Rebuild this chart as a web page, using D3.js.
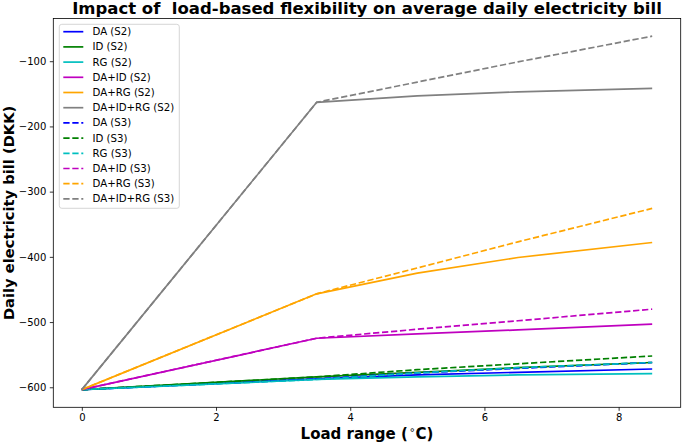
<!DOCTYPE html>
<html><head><meta charset="utf-8">
<script src="https://cdn.jsdelivr.net/npm/d3@7"></script>
<style>
html,body{margin:0;padding:0;background:#fff;}
svg{display:block;font-family:"DejaVu Sans",sans-serif;}
</style></head>
<body>
<svg id="chart" width="685" height="443"></svg>
<script>
// ---- data ----
const loadRange = [0, 3.5, 5, 6.5, 8.5];
const seriesNames = ["DA (S2)","ID (S2)","RG (S2)","DA+ID (S2)","DA+RG (S2)","DA+ID+RG (S2)",
                     "DA (S3)","ID (S3)","RG (S3)","DA+ID (S3)","DA+RG (S3)","DA+ID+RG (S3)"];
const DA_S2      = [-603.6, -587, -581, -577, -572];
const ID_S2      = [-603.6, -584, -577, -570, -562];
const RG_S2      = [-603.6, -588, -584, -581, -579];
const DAID_S2    = [-603.6, -524.8, -518, -512, -503.3];
const DARG_S2    = [-603.6, -456.7, -425, -401, -378];
const DAIDRG_S2  = [-603.6, -163, -153, -147, -141.5];
const DA_S3      = [-603.6, -587, -578, -571, -562];
const ID_S3      = [-603.6, -584, -573, -564, -552];
const RG_S3      = [-603.6, -588, -578, -570, -562];
const DAID_S3    = [-603.6, -524.8, -511, -498, -480.2];
const DARG_S3    = [-603.6, -456.7, -417, -377, -325.7];
const DAIDRG_S3  = [-603.6, -163, -132, -101, -61.6];
const xTicks = [0, 2, 4, 6, 8];
const yTicks = [-600, -500, -400, -300, -200, -100];

const seriesValues = [DA_S2, ID_S2, RG_S2, DAID_S2, DARG_S2, DAIDRG_S2,
                      DA_S3, ID_S3, RG_S3, DAID_S3, DARG_S3, DAIDRG_S3];
const colors = ["#0000ff","#008000","#00bfbf","#bf00bf","#ffa500","#808080"];

// ---- layout ----
const svg = d3.select("#chart");
const L = 53.3, R = 680.7, T = 18.5, B = 407.3;

const xMin = d3.min(loadRange), xMax = d3.max(loadRange);
const allV = seriesValues.flat();
const vMin = d3.min(allV), vMax = d3.max(allV);
const xPad = (xMax - xMin) * 0.05, yPad = (vMax - vMin) * 0.05;

const x = d3.scaleLinear().domain([xMin - xPad, xMax + xPad]).range([L, R]);
const y = d3.scaleLinear().domain([vMin - yPad, vMax + yPad]).range([B, T]);

const fmt = d => (d < 0 ? "\u2212" + Math.abs(d) : String(d));

// lines
const line = d3.line().x((d, i) => x(loadRange[i])).y(d => y(d));
const g = svg.append("g");
seriesValues.forEach((vals, k) => {
  g.append("path")
    .attr("d", line(vals))
    .attr("fill", "none")
    .attr("stroke", colors[k % 6])
    .attr("stroke-width", 1.7)
    .attr("stroke-dasharray", k >= 6 ? "6.3,2.7" : null);
});

// axes
const xAxis = d3.axisBottom(x).tickValues(xTicks).tickSize(3.5).tickPadding(3.5).tickFormat(fmt);
const yAxis = d3.axisLeft(y).tickValues(yTicks).tickSize(3.5).tickPadding(3.5).tickFormat(fmt);
const gx = svg.append("g").attr("transform", `translate(0,${B})`).call(xAxis);
const gy = svg.append("g").attr("transform", `translate(${L},0)`).call(yAxis);
[gx, gy].forEach(a => {
  a.select(".domain").remove();
  a.selectAll("line").attr("stroke", "#000").attr("stroke-width", 0.8);
  a.selectAll("text").attr("font-family", "DejaVu Sans").attr("font-size", 10).attr("fill", "#000");
});

// frame
svg.append("rect").attr("x", L).attr("y", T).attr("width", R - L).attr("height", B - T)
  .attr("fill", "none").attr("stroke", "#000").attr("stroke-width", 0.8);

// legend
const lg = svg.append("g");
lg.append("rect").attr("x", 59.3).attr("y", 24.3).attr("width", 120).attr("height", 184)
  .attr("rx", 2.5).attr("fill", "#fff").attr("fill-opacity", 0.8)
  .attr("stroke", "#cccccc").attr("stroke-width", 0.8);
seriesNames.forEach((name, k) => {
  const cy = 31.7 + k * 15.2;
  lg.append("line").attr("x1", 63.3).attr("x2", 83.3).attr("y1", cy).attr("y2", cy)
    .attr("stroke", colors[k % 6]).attr("stroke-width", 1.7)
    .attr("stroke-dasharray", k >= 6 ? "6.3,2.7" : null);
  lg.append("text").attr("x", 92.5).attr("y", cy).attr("dy", "0.35em")
    .attr("font-size", 10.2).attr("fill", "#000").text(name);
});

// title and labels
svg.append("text").attr("x", (L + R) / 2).attr("y", 14).attr("text-anchor", "middle")
  .attr("font-size", 16.5).attr("font-weight", "bold")
  .text("Impact of\u00a0 load-based flexibility on average daily electricity bill");

svg.append("text").attr("transform", `translate(14,${(T + B) / 2}) rotate(-90)`)
  .attr("text-anchor", "middle").attr("font-size", 14.7).attr("font-weight", "bold")
  .text("Daily electricity bill (DKK)");

const xl = svg.append("text").attr("x", (L + R) / 2).attr("y", 439).attr("text-anchor", "middle")
  .attr("font-size", 15).attr("font-weight", "bold");
xl.append("tspan").text("Load range (");
xl.append("tspan").attr("font-weight", "normal").attr("font-size", 10).attr("dx", 1.5).attr("dy", -6).text("\u2218");
xl.append("tspan").attr("dy", 6).text("C)");
</script>
</body></html>
